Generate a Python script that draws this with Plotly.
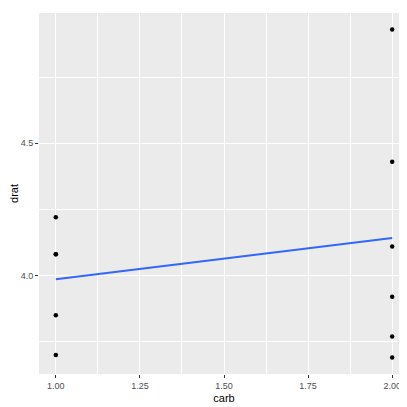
import numpy as np
import plotly.graph_objects as go

carb = [1, 1, 1, 1, 1, 2, 2, 2, 2, 2, 2]
drat = [4.22, 4.08, 4.08, 3.85, 3.70, 4.93, 4.43, 4.11, 3.92, 3.77, 3.69]

slope, intercept = np.polyfit(carb, drat, 1)
xs = np.array([min(carb), max(carb)])

fig = go.Figure()
fig.add_trace(go.Scatter(x=carb, y=drat, mode="markers",
                         marker=dict(color="black", size=4.5)))
fig.add_trace(go.Scatter(x=xs, y=slope * xs + intercept, mode="lines",
                         line=dict(color="#3366FF", width=2)))

xr = [0.95, 2.05]
yr = [3.69 - 0.062, 4.93 + 0.062]
fig.update_layout(
    width=407, height=407, showlegend=False,
    paper_bgcolor="white", plot_bgcolor="#EBEBEB",
    margin=dict(l=31, r=6, t=5, b=41),
    font=dict(family="Liberation Sans", size=11, color="black"),
)
fig.update_xaxes(range=xr, automargin=False, tickvals=[1, 1.25, 1.5, 1.75, 2],
                 ticktext=["1.00", "1.25", "1.50", "1.75", "2.00"],
                 gridcolor="white", gridwidth=1.2, zeroline=False,
                 minor=dict(tickvals=[1.125, 1.375, 1.625, 1.875], gridcolor="white", gridwidth=0.5),
                 ticks="outside", ticklen=3, tickcolor="#333333",
                 tickfont=dict(size=9, color="#4D4D4D"),
                 title=dict(text="carb", font=dict(size=11), standoff=4))
fig.update_yaxes(range=yr, automargin=False, tickvals=[4.0, 4.5], ticktext=["4.0", "4.5"],
                 gridcolor="white", gridwidth=1.2, zeroline=False,
                 minor=dict(tickvals=[3.75, 4.25, 4.75], gridcolor="white", gridwidth=0.5),
                 ticks="outside", ticklen=3, tickcolor="#333333",
                 tickfont=dict(size=9, color="#4D4D4D"),
                 title=dict(text="drat", font=dict(size=11), standoff=4))

fig.write_html("out.html")
